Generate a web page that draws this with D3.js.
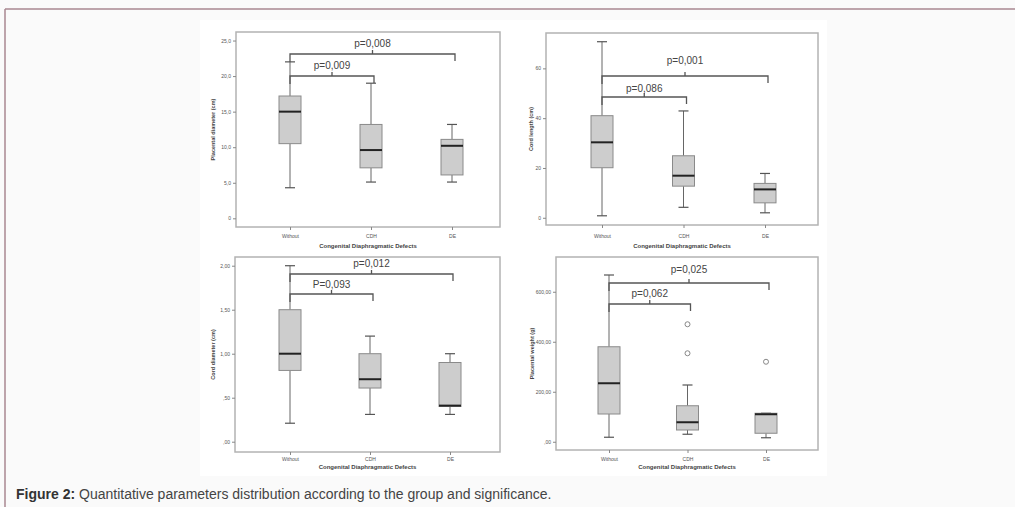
<!DOCTYPE html>
<html>
<head>
<meta charset="utf-8">
<script src="https://cdn.jsdelivr.net/npm/d3@7"></script>
<style>
	body { margin: 0; background: #fafafa; }
	svg { display: block; font-family: "Liberation Sans", Arial, sans-serif; }
</style>
</head>
<body>
<svg id="chart" width="1015" height="507"></svg>
<script>
// groups on the x axis
const groups = ["Without", "CDH", "DE"];

// five number summaries per group: [min, q1, median, q3, max]
const placentalDiameter = [[4.3, 10.5, 15.0, 17.2, 22.0], [5.1, 7.1, 9.6, 13.2, 19.0], [5.1, 6.1, 10.2, 11.1, 13.2]];
const cordLength = [[0.8, 20.1, 30.3, 41.0, 70.7], [4.2, 12.7, 16.9, 24.9, 42.9], [2.0, 6.0, 11.4, 13.8, 17.8]];
const cordDiameter = [[0.21, 0.81, 1.0, 1.5, 2.0], [0.31, 0.61, 0.71, 1.0, 1.2], [0.31, 0.4, 0.41, 0.9, 1.0]];
const placentalWeight = [[18, 111, 234, 380, 667], [30, 47, 78, 144, 227], [16, 34, 110, 114, 114]];
const placentalWeightOutliers = [[], [354, 470], [320]];

// y ticks and their labels
const placentalDiameterTicks = [0, 5, 10, 15, 20, 25];
const placentalDiameterLabels = ["0", "5,0", "10,0", "15,0", "20,0", "25,0"];
const cordLengthTicks = [0, 20, 40, 60];
const cordLengthLabels = ["0", "20", "40", "60"];
const cordDiameterTicks = [0, 0.5, 1, 1.5, 2];
const cordDiameterLabels = [",00", ",50", "1,00", "1,50", "2,00"];
const placentalWeightTicks = [0, 200, 400, 600];
const placentalWeightLabels = [",00", "200,00", "400,00", "600,00"];

// p values: [CDH vs Without, DE vs Without]
const placentalDiameterP = ["p=0,009", "p=0,008"];
const cordLengthP = ["p=0,086", "p=0,001"];
const cordDiameterP = ["P=0,093", "p=0,012"];
const placentalWeightP = ["p=0,062", "p=0,025"];

const panels = [
	{ title: "Placental diameter (cm)", stats: placentalDiameter, outliers: [[], [], []], ticks: placentalDiameterTicks, labels: placentalDiameterLabels, p: placentalDiameterP,
	  x0: 236, x1: 500, y0: 32, y1: 227, padL: 54, padR: 48, domain: [-1.22, 26.2], titleOff: 23, brackets: [44, 22], labelDy: [0, 0], catY: 236, xTitleY: 248 },
	{ title: "Cord length (cm)", stats: cordLength, outliers: [[], [], []], ticks: cordLengthTicks, labels: cordLengthLabels, p: cordLengthP,
	  x0: 546, x1: 818, y0: 33, y1: 225, padL: 56, padR: 53, domain: [-2.9, 74.2], titleOff: 15, brackets: [64, 43], labelDy: [2, -5], catY: 236, xTitleY: 248 },
	{ title: "Cord diameter (cm)", stats: cordDiameter, outliers: [[], [], []], ticks: cordDiameterTicks, labels: cordDiameterLabels, p: cordDiameterP,
	  x0: 235, x1: 500, y0: 257, y1: 452, padL: 55, padR: 50, domain: [-0.117, 2.099], titleOff: 22, brackets: [37, 17], labelDy: [1, 0], catY: 459, xTitleY: 469 },
	{ title: "Placental weight (g)", stats: placentalWeight, outliers: placentalWeightOutliers, ticks: placentalWeightTicks, labels: placentalWeightLabels, p: placentalWeightP,
	  x0: 556, x1: 818, y0: 257, y1: 450, padL: 53, padR: 52, domain: [-33, 739], titleOff: 24, brackets: [47, 26], labelDy: [0, -3], catY: 459, xTitleY: 469 }
];

const svg = d3.select("#chart");

// page frame
svg.append("line").attr("x1", 5).attr("x2", 1015).attr("y1", 9).attr("y2", 9)
	.attr("stroke", "#a98791").attr("stroke-width", 1.5);
svg.append("line").attr("x1", 5).attr("x2", 5).attr("y1", 9).attr("y2", 507)
	.attr("stroke", "#a98791").attr("stroke-width", 1.5);
svg.append("rect").attr("x", 200).attr("y", 20).attr("width", 627).attr("height", 456).attr("fill", "#fff");

const drawPanel = (pn) => {
	const g = svg.append("g");
	const x = d3.scalePoint().domain(groups).range([pn.x0 + pn.padL, pn.x1 - pn.padR]);
	const y = d3.scaleLinear().domain(pn.domain).range([pn.y1, pn.y0]);
	const boxW = 22, capW = 10;

	// plot frame
	g.append("rect")
		.attr("x", pn.x0).attr("y", pn.y0)
		.attr("width", pn.x1 - pn.x0).attr("height", pn.y1 - pn.y0)
		.attr("fill", "none").attr("stroke", "#b3b3b3").attr("stroke-width", 1.5);

	// y axis
	const yAxis = d3.axisLeft(y).tickValues(pn.ticks)
		.tickFormat((d, i) => pn.labels[i]).tickSize(3).tickPadding(2);
	g.append("g").attr("transform", `translate(${pn.x0},0)`).call(yAxis)
		.call((a) => a.select(".domain").remove())
		.call((a) => a.selectAll("line").attr("stroke", "#888"))
		.call((a) => a.selectAll("text").attr("font-size", 5).attr("fill", "#555").attr("font-family", null));

	// x axis
	const xAxis = d3.axisBottom(x).tickSize(3).tickPadding(3);
	g.append("g").attr("transform", `translate(0,${pn.y1})`).call(xAxis)
		.call((a) => a.select(".domain").remove())
		.call((a) => a.selectAll("line").attr("stroke", "#888"))
		.call((a) => a.selectAll("text").attr("font-size", 5).attr("fill", "#555").attr("font-family", null)
			.attr("y", pn.catY - pn.y1).attr("dy", "0.35em"));

	// titles
	g.append("text")
		.attr("x", (pn.x0 + pn.x1) / 2).attr("y", pn.xTitleY)
		.attr("text-anchor", "middle").attr("font-size", 6).attr("font-weight", "bold").attr("fill", "#444")
		.text("Congenital Diaphragmatic Defects");
	g.append("text")
		.attr("transform", `translate(${pn.x0 - pn.titleOff},${(pn.y0 + pn.y1) / 2}) rotate(-90)`)
		.attr("text-anchor", "middle").attr("dy", "0.35em")
		.attr("font-size", 5.5).attr("font-weight", "bold").attr("fill", "#444")
		.text(pn.title);

	// boxes
	pn.stats.forEach((s, i) => {
		const cx = x(groups[i]);
		const [mn, q1, md, q3, mx] = s;
		const bg = g.append("g");
		bg.append("line").attr("x1", cx).attr("x2", cx).attr("y1", y(mx)).attr("y2", y(q3)).attr("stroke", "#666");
		bg.append("line").attr("x1", cx).attr("x2", cx).attr("y1", y(q1)).attr("y2", y(mn)).attr("stroke", "#666");
		[mn, mx].forEach((v) => {
			bg.append("line").attr("x1", cx - capW / 2).attr("x2", cx + capW / 2)
				.attr("y1", y(v)).attr("y2", y(v)).attr("stroke", "#555").attr("stroke-width", 1.2);
		});
		bg.append("rect")
			.attr("x", cx - boxW / 2).attr("y", y(q3))
			.attr("width", boxW).attr("height", Math.max(1, y(q1) - y(q3)))
			.attr("fill", "#cdcdcd").attr("stroke", "#8a8a8a");
		bg.append("line").attr("x1", cx - boxW / 2).attr("x2", cx + boxW / 2)
			.attr("y1", y(md)).attr("y2", y(md)).attr("stroke", "#222").attr("stroke-width", 2);

		pn.outliers[i].forEach((v) => {
			bg.append("circle").attr("cx", cx).attr("cy", y(v)).attr("r", 2.5)
				.attr("fill", "#fff").attr("stroke", "#888");
		});
	});

	// significance brackets
	const left = x(groups[0]);
	[1, 2].forEach((k, j) => {
		const by = pn.y0 + pn.brackets[j];
		const right = x(groups[k]) + 3;
		const mid = (left + right) / 2;
		g.append("path")
			.attr("d", `M${left},${by + 8}V${by}H${right}V${by + 7}M${mid},${by}V${by - 4}`)
			.attr("fill", "none").attr("stroke", "#555").attr("stroke-width", 1.3);
		g.append("text")
			.attr("x", mid).attr("y", by - 7 + pn.labelDy[j])
			.attr("text-anchor", "middle").attr("font-size", 10).attr("fill", "#444")
			.text(pn.p[j]);
	});
};

panels.forEach(drawPanel);

// caption
const cap = svg.append("text").attr("x", 16).attr("y", 499).attr("font-size", 14).attr("fill", "#444");
cap.append("tspan").attr("font-weight", "bold").attr("fill", "#333").text("Figure 2:");
cap.append("tspan").text(" Quantitative parameters distribution according to the group and significance.");
</script>
</body>
</html>
